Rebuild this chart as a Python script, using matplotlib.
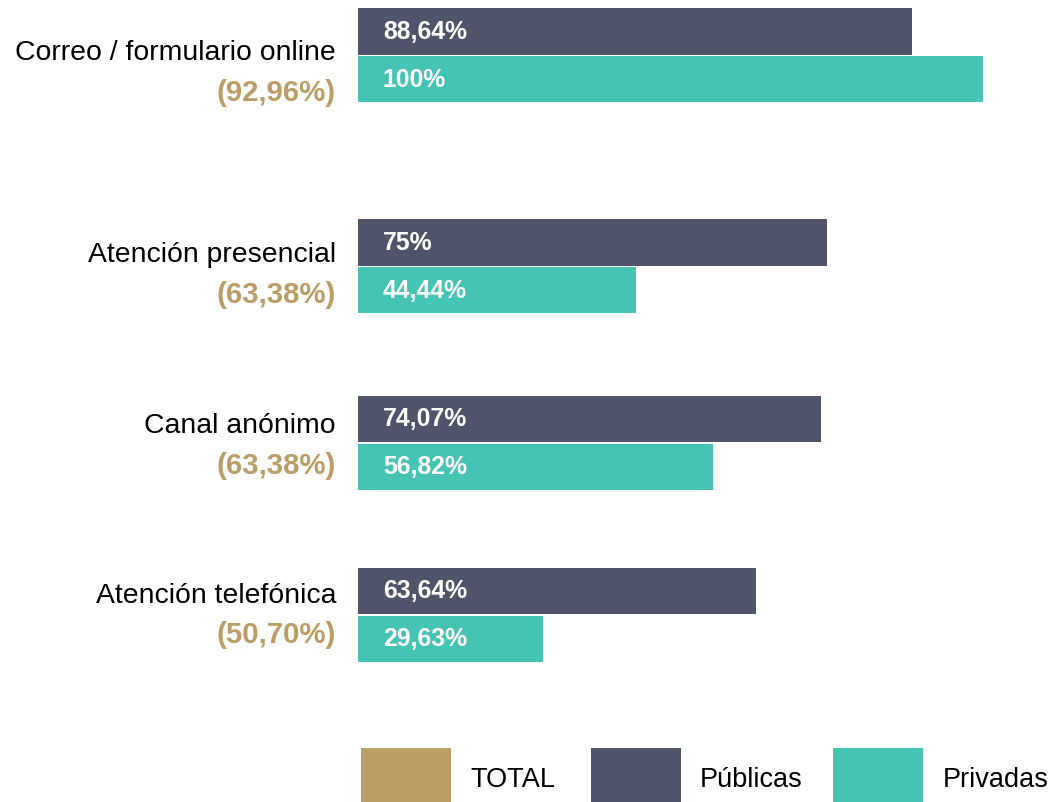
import matplotlib
matplotlib.use("Agg")
from matplotlib import pyplot as plt
from matplotlib.patches import Rectangle

plt.rcParams['font.family'] = ['Liberation Sans', 'DejaVu Sans']

# datos
canales = ['Correo / formulario online', 'Atención presencial',
           'Canal anónimo', 'Atención telefónica']
total = [92.96, 63.38, 63.38, 50.70]
publicas = [88.64, 75.00, 74.07, 63.64]
privadas = [100.0, 44.44, 56.82, 29.63]

def fmt(v):
    # formato español: coma decimal, sin decimales si es entero
    if float(v).is_integer():
        return f"{int(v)}%"
    return f"{v:.2f}%".replace('.', ',')

# colores
C_TOTAL = '#bd9d66'
C_PUB = '#4f546b'
C_PRIV = '#45c3b3'

# disposición (unidades = altura de una barra)
centros = [1.18, 5.67, 9.42, 13.08]       # centro de cada grupo
etiqueta_y = [1.13, 5.43, 9.07, 12.68]    # línea del nombre del canal
alto_fig = 802 / 47

W, H = 1052, 802
fig = plt.figure(figsize=(W / 100, H / 100), dpi=100)
ax = fig.add_axes([358 / W, 0, 625 / W, 1])
ax.set_xlim(0, 100)
ax.set_ylim(alto_fig, 0)
ax.axis('off')

for i, c in enumerate(centros):
    ax.barh(c - 1, publicas[i], height=0.98, align='edge', color=C_PUB)
    ax.barh(c + 0.02, privadas[i], height=0.98, align='edge', color=C_PRIV)
    ax.text(4, c - 0.5, fmt(publicas[i]), color='white', fontsize=17.8,
            fontweight='bold', va='center', ha='left')
    ax.text(4, c + 0.52, fmt(privadas[i]), color='white', fontsize=17.8,
            fontweight='bold', va='center', ha='left')
    ax.text(-3.5, etiqueta_y[i], canales[i], color='black', fontsize=20.4,
            va='center', ha='right', clip_on=False)
    ax.text(-3.5, etiqueta_y[i] + 0.84, f"({fmt(total[i])})", color=C_TOTAL,
            fontsize=21.2, fontweight='bold', va='center', ha='right',
            clip_on=False)

# leyenda
leyenda = [('TOTAL', C_TOTAL, 361, 470), ('Públicas', C_PUB, 591, 700),
           ('Privadas', C_PRIV, 833, 943)]
for txt, col, x0, xt in leyenda:
    fig.add_artist(Rectangle((x0 / W, 0), 90 / W, 54 / H,
                             transform=fig.transFigure, color=col, lw=0))
    fig.text(xt / W, 1 - 780 / H, txt, fontsize=19.5, va='center', ha='left')

fig.savefig('out.png', dpi=100, facecolor='white')
